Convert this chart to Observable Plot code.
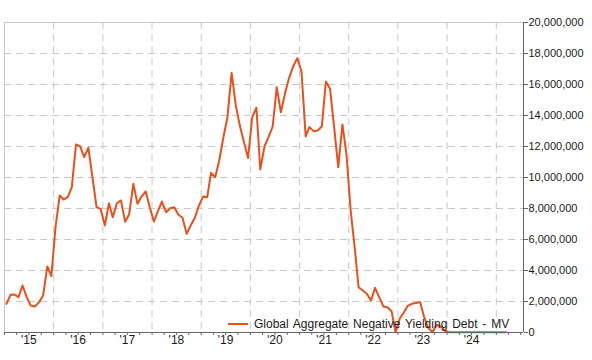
<!DOCTYPE html>
<html>
<head>
<meta charset="utf-8">
<script src="https://cdn.jsdelivr.net/npm/d3@7"></script>
<script src="https://cdn.jsdelivr.net/npm/@observablehq/plot@0.6"></script>
<style>
  html, body { margin: 0; padding: 0; background: #fff; }
  #wrap { position: relative; width: 592px; height: 360px; font-family: "Liberation Sans", Arial, sans-serif; }
  #legend { position: absolute; left: 228px; top: 317px; font-size: 12px; color: #1a1a1a; white-space: nowrap; word-spacing: 1.5px; display: flex; align-items: center; }
  #legend .swatch { display: inline-block; width: 20px; height: 2px; background: #e8501c; margin-right: 6px; }
</style>
</head>
<body>
<div id="wrap"><div id="legend"><span class="swatch"></span><span>Global Aggregate Negative Yielding Debt - MV</span></div></div>
<script>
// Data (millions), monthly from Jan 2015
const startDate = "2015-01-15";
const valuesM = [
  1.85, 2.43, 2.45, 2.28, 3.03, 2.28, 1.74, 1.68, 1.96, 2.39, 4.26, 3.63,
  6.80, 8.84, 8.58, 8.73, 9.38, 12.13, 12.02, 11.31, 11.92, 10.02, 8.08, 7.98,
  6.90, 8.34, 7.44, 8.34, 8.52, 7.14, 7.63, 9.59, 8.30, 8.77, 9.10, 8.08,
  7.16, 7.87, 8.45, 7.76, 8.02, 8.08, 7.61, 7.40, 6.37, 6.90, 7.40, 8.19,
  8.77, 8.73, 10.30, 10.02, 11.10, 12.60, 13.89, 16.75, 14.65, 13.35, 12.28, 11.25,
  13.89, 14.50, 10.52, 12.00, 12.60, 13.29, 15.83, 14.21, 15.44, 16.43, 17.18, 17.70,
  16.84, 12.65, 13.25, 12.99, 13.03, 13.29, 16.19, 15.72, 13.20, 10.66, 13.42, 11.50,
  7.90, 5.40, 2.92, 2.71, 2.50, 2.06, 2.88, 2.28, 1.68, 1.63, 1.37, 0.02,
  0.90, 1.30, 1.72, 1.85, 1.90, 1.96, 1.00, 0.30, 0.02, 0.50, 0.39, 0.13,
  0.02, 0.02, 0.02, 0.02, 0.02, 0.02, 0.02, 0.02, 0.02, 0.02, 0.02, 0.02,
  0.02, 0.02, 0.02
];
const yTicks = [0, 2e6, 4e6, 6e6, 8e6, 10e6, 12e6, 14e6, 16e6, 18e6, 20e6];
const yearLabels = ["'15", "'16", "'17", "'18", "'19", "'20", "'21", "'22", "'23", "'24"];
const labelYears = [2015, 2016, 2017, 2018, 2019, 2020, 2021, 2022, 2023, 2024];
const gridYears = [2016, 2017, 2018, 2019, 2020, 2021, 2022, 2023, 2024, 2025];

const start = new Date(startDate);
const data = valuesM.map((v, i) => ({date: d3.utcMonth.offset(start, i), value: v * 1e6}));
const xDomain = [new Date("2015-01-01"), new Date("2025-07-22")];
const quarterTicks = d3.utcMonth.every(3).range(xDomain[0], xDomain[1]);
const gridDates = gridYears.map(y => new Date(Date.UTC(y, 0, 1)));
const labelData = labelYears.map((y, i) => ({date: new Date(Date.UTC(y, 6, 1)), label: yearLabels[i]}));

const grid = "#c8c8c8";
const axisCol = "#666";

const chart = Plot.plot({
  width: 592,
  height: 360,
  marginLeft: 4,
  marginRight: 69,
  marginTop: 22,
  marginBottom: 28,
  x: {type: "utc", domain: xDomain},
  y: {domain: [0, 20e6]},
  style: {fontFamily: "Liberation Sans, Arial, sans-serif", fontSize: "11px", color: "#1a1a1a", background: "#fff"},
  marks: [
    Plot.ruleY(yTicks.filter(d => d > 0 && d < 20e6), {stroke: grid, strokeDasharray: "7,5"}),
    Plot.ruleX(gridDates, {stroke: grid, strokeDasharray: "7,5"}),
    Plot.ruleY([20e6], {stroke: grid}),
    Plot.ruleX([xDomain[0]], {stroke: grid}),
    Plot.line(data, {x: "date", y: "value", stroke: "#e8501c", strokeWidth: 2}),
    Plot.axisX({ticks: quarterTicks, tickSize: 3, tickFormat: () => "", stroke: axisCol, label: null}),
    Plot.ruleY([0], {stroke: axisCol}),
    Plot.text(labelData, {x: "date", text: "label", frameAnchor: "bottom", dy: 11, fontSize: 12, fill: "#1a1a1a"}),
    Plot.axisY({anchor: "right", ticks: yTicks, tickSize: 4, tickPadding: 1, tickFormat: d3.format(","), stroke: axisCol, label: null}),
    Plot.ruleX([xDomain[1]], {stroke: axisCol})
  ]
});
document.getElementById("wrap").prepend(chart);
chart.style.position = "absolute";
chart.style.left = "0";
chart.style.top = "0";
</script>
</body>
</html>
